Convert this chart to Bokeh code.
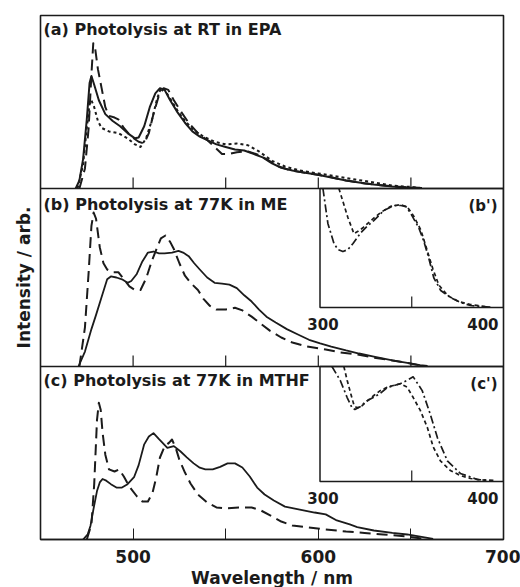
from bokeh.plotting import figure
from bokeh.models import Range1d, FixedTicker, Span, BoxAnnotation, Label, Title
from bokeh.embed import file_html
from bokeh.resources import INLINE
from bokeh.core.properties import value

# ---------------- data (intensity in % of panel height) ----------------
# (a) Photolysis at RT in EPA
a_solid_nm = [469, 471, 473, 475, 476.5, 477.5, 479, 481.5, 485, 489, 493, 497, 501, 503, 506, 509,
              512, 514.5, 517, 520, 524, 528, 532, 536, 540, 545, 550, 555, 560, 565, 570, 575, 580,
              586, 592, 599, 607, 615, 622, 630, 640, 648, 656]
a_solid = [0, 4.6, 17, 40, 61, 65, 60, 51, 43, 39, 36, 32, 29, 29.5, 36, 47,
           55, 58, 57, 51, 44, 38, 33, 30, 28, 25.5, 24, 22.5, 22, 20, 18, 14.5, 12,
           10.4, 9.2, 8.1, 6.4, 4.6, 3.5, 2.3, 1.2, 0.6, 0.3]
a_dash_nm = [471, 474, 476, 477.5, 478.5, 479.5, 481, 483, 485, 487, 490, 492, 495, 499, 503, 506,
             508.5, 511, 514, 516.5, 519, 522, 525.5, 530, 535, 540, 545, 548, 552, 556, 562, 567,
             572, 578, 585, 595, 605, 615, 625, 635, 645, 655]
a_dash = [0, 11.6, 35, 66, 84, 81, 69, 58, 47, 42, 41, 40, 35, 30, 27, 26,
          32, 43, 54, 58, 57, 51, 45, 38, 32, 28, 23, 20, 20, 21, 21.4, 19.7,
          17, 13, 10.4, 8.7, 7, 4.6, 2.9, 1.7, 0.9, 0.3]
a_dot_nm = [470, 473, 475, 476.5, 477.5, 479, 481, 483, 487, 492, 497, 501, 504, 507, 510, 513,
            515, 517, 520, 524, 528, 533, 538, 544, 550, 556, 562, 568, 575, 582, 590, 600, 610,
            620, 630, 640, 650, 655]
a_dot = [0, 14, 35, 49, 51, 47, 39, 35, 33, 32, 29, 25.5, 24, 29, 39, 52,
         58, 57, 52, 45, 39, 33.5, 30, 27, 25.5, 26, 25, 21.4, 16, 12.7, 10.4, 8.7, 7,
         5.2, 3.5, 1.7, 0.9, 0.3]

# (b) Photolysis at 77K in ME
b_solid_nm = [470.5, 474, 477.5, 480, 483, 486, 488, 491, 494, 497, 499, 502, 505, 508, 511, 514,
              517, 521, 524.5, 527, 530, 533, 536, 540, 544, 548, 552, 556, 560, 564, 568, 572,
              577, 583, 589, 595, 601, 607, 615, 622, 630, 640, 648, 655, 659]
b_solid = [0, 8.4, 21, 29, 39, 49, 50.6, 50, 49, 47, 48, 52, 59, 64, 64.6, 63.5,
           63.5, 64, 65, 64, 62, 58, 54.5, 50, 47, 46.6, 46, 44, 40, 36.5, 32, 28,
           24.7, 21, 18, 15, 13, 11.2, 9, 7.3, 5.6, 3.4, 2, 0.8, 0.3]
b_dash_nm = [471, 474, 476, 477.5, 478.7, 480, 482, 484, 486, 489, 492, 495, 498, 501, 504, 507,
             510, 513, 515, 517.5, 520, 522, 525, 528, 531, 535, 538, 541.5, 545, 550, 555, 559,
             564, 569, 574, 580, 586, 594, 604, 612, 621, 630, 640, 648, 655]
b_dash = [0, 22, 53, 79, 86.5, 83, 67, 58, 54.5, 53, 53, 49, 45, 43, 43, 49.4,
          59, 67, 72, 73.6, 70, 66, 58, 51, 47, 43, 38, 34, 32, 32, 33, 31.5,
          28, 24, 20, 16.3, 13.5, 11.2, 9.6, 7.9, 6.7, 5, 3.4, 2, 0.6]

# (c) Photolysis at 77K in MTHF
c_solid_nm = [473, 475.5, 477, 478.5, 480.5, 482, 483.5, 485.5, 488, 491, 494, 497, 500.5, 503,
              506, 508.5, 511, 514, 518.5, 522, 525.5, 529, 532.7, 536, 539, 543, 547, 551, 555,
              559, 563, 567, 571, 576, 582, 590, 598, 604, 610, 617, 621, 630, 640, 648, 655, 662]
c_solid = [0, 3, 8, 17, 28, 33, 35, 34, 32, 30, 30, 32, 36, 43,
           55, 59.5, 61.5, 58, 53, 54, 51, 47.5, 44, 41.5, 40.5, 40.5, 42, 44, 44,
           41.6, 36.4, 30, 26, 22.5, 19, 17.3, 15.6, 14.5, 11, 8.7, 7.2, 5.2, 3.8, 2.9, 1.7, 0.3]
c_dash_nm = [475, 477.5, 479, 480.5, 481.5, 482.5, 483.5, 485, 487, 490, 492.5, 495, 498, 502, 505,
             508, 510.5, 512.5, 514.5, 517, 519.5, 521, 523, 525, 528, 531, 535, 540, 545, 550,
             557, 564, 569, 574, 580, 586, 594, 604, 615, 625, 635, 645, 652, 657]
c_dash = [0, 8.7, 32, 69, 79, 75, 62, 49, 40.5, 39.3, 40.5, 36.4, 30.6, 25, 22,
          22, 27, 36, 47.4, 53.8, 56, 57.8, 53, 46, 38.7, 32.4, 26, 21.4, 18.5, 18,
          18.5, 18.5, 16.8, 13.9, 10.4, 8.1, 7, 5.8, 4.6, 3.8, 2.9, 2, 1.2, 0.3]

# (b') inset, 300-400 nm
bi_dashdot_nm = [301.6, 304.3, 307.6, 309.8, 312.5, 315.2, 318, 322.3, 325.5, 329.3, 334.8, 340.2,
                 344, 346.7, 349.5, 353.8, 356.5, 359.2, 362, 365.8, 371.2, 376.6, 382, 387.5, 394]
bi_dashdot = [100, 70.6, 53.8, 48.7, 47, 48.7, 53.8, 63, 68, 73, 81.5, 85.7,
              85.7, 85, 79, 67, 56, 42, 25, 14.3, 8.4, 4.2, 1.7, 0.8, 0.3]
bi_dash_nm = [310.3, 315.2, 318.5, 320.7, 323.4, 327.7, 333.2, 338.6, 344, 347.8, 351, 355, 358,
              361.4, 364.7, 369.6, 375.5, 382, 390]
bi_dash = [100, 75.6, 62, 64, 67, 73, 80, 85, 86.5, 84, 77, 65, 50,
           33, 19, 10, 5, 2.5, 0.8]

# (c') inset, 300-400 nm
ci_dashdot_nm = [306.5, 311, 314.8, 317.5, 319, 321.9, 325, 329, 332.8, 336.6, 343.7, 347.5, 350.8,
                 355.7, 360, 364, 369.4, 376.5, 385.8, 394.5]
ci_dashdot = [100, 88, 73, 64, 62.6, 65, 69.6, 73, 76.5, 81.7, 85, 88, 91,
              79, 59, 38, 18, 7, 1.7, 0.9]
ci_dash_nm = [313, 314.8, 317, 318.6, 320.2, 323, 325.7, 329.5, 332.8, 336.6, 340, 343.7, 347.5,
              350.8, 354.6, 358.5, 361.7, 365.6, 371, 376.5, 382, 391]
ci_dash = [100, 88, 75, 66, 64, 66, 70, 75, 79, 82, 83.5, 85, 82,
           73, 62, 47, 30, 18, 9.6, 5.2, 2.6, 0.9]

panel_titles = ["(a) Photolysis at RT in EPA", "(b) Photolysis at 77K in ME",
                "(c) Photolysis at 77K in MTHF"]
inset_titles = ["(b')", "(c')"]
main_ticks = [500, 600, 700]
main_minor_ticks = [550, 650]
panel_ticks = [500, 550, 600, 650]
inset_tick_labels = [300, 400]
inset_ticks = [350]

# ---------------- layout (pixels inside the plot frame) ----------------
FRAME_W, FRAME_H = 463, 524
PANELS = {"a": (0, 173), "b": (173, 351), "c": (351, 524)}
INSETS = {"bi": (173, 292), "ci": (351, 466)}
INSET_LEFT = 279.5
TICK = 11
INK = "#1b1b1b"
FONT = "DejaVu Sans"


def band_range(top, bottom):
    s = 100.0 / (bottom - top)
    return Range1d(start=-(FRAME_H - bottom) * s, end=bottom * s)


def px(name, pixels):
    top, bottom = (PANELS | INSETS)[name]
    return pixels * 100.0 / (bottom - top)


ins_scale = (FRAME_W - INSET_LEFT) / 100.0

p = figure(width=520, height=587, x_range=Range1d(450, 700), y_range=Range1d(0, 1),
           output_backend="svg", toolbar_location=None,
           min_border_left=40, min_border_right=17, min_border_top=15, min_border_bottom=48)
p.extra_y_ranges = {k: band_range(*v) for k, v in (PANELS | INSETS).items()}
p.extra_x_ranges = {"ins": Range1d(300 - INSET_LEFT / ins_scale, 400)}

p.outline_line_color = INK
p.outline_line_width = 1.6
p.grid.visible = False
p.background_fill_color = "white"
p.border_fill_color = "white"

xa = p.xaxis[0]
xa.ticker = FixedTicker(ticks=main_ticks, minor_ticks=main_minor_ticks)
xa.major_tick_in = TICK
xa.major_tick_out = 0
xa.minor_tick_in = TICK
xa.minor_tick_out = 0
xa.axis_line_color = INK
xa.axis_line_width = 1.6
xa.major_tick_line_color = INK
xa.minor_tick_line_color = INK
xa.major_label_standoff = 10
xa.major_label_text_font = FONT
xa.major_label_text_font_style = "bold"
xa.major_label_text_font_size = "17px"
xa.major_label_text_color = INK

ya = p.yaxis[0]
ya.ticker = FixedTicker(ticks=[])
ya.major_tick_in = 0
ya.major_tick_out = 0
ya.minor_tick_in = 0
ya.minor_tick_out = 0
ya.axis_line_color = None
ya.major_label_text_font_size = "0px"
ya.axis_label = "Intensity / arb."
ya.axis_label_text_font = FONT
ya.axis_label_text_font_style = "bold"
ya.axis_label_text_font_size = "17px"
ya.axis_label_text_color = INK
ya.axis_label_standoff = 7

# x axis title, set a little right of the frame centre
p.add_layout(Title(text="Wavelength / nm", align="center", offset=25, standoff=0,
                   text_font=FONT, text_font_style="bold", text_font_size="17px",
                   text_color=INK), "below")

# panel separators and inner ticks
for name in ("a", "b"):
    p.add_layout(Span(location=0, dimension="width", y_range_name=name,
                      line_color=INK, line_width=1.6))
    p.segment(x0=panel_ticks, y0=0, x1=panel_ticks, y1=px(name, TICK),
              y_range_name=name, line_color=INK, line_width=1.2)

# panel titles
for name, title in zip(("a", "b", "c"), panel_titles):
    dy = 14 if name != "b" else 16
    p.add_layout(Label(x=450 + 3 / 1.852, y=px(name, (PANELS[name][1] - PANELS[name][0]) - dy),
                       y_range_name=name, text=title, text_baseline="middle",
                       text_font=FONT, text_font_style="bold", text_font_size="16px",
                       text_color=INK))

# main spectra
def draw(nm, vals, name, dash, x_range_name="default", width=2.0):
    p.line(nm, vals, y_range_name=name, x_range_name=x_range_name,
           line_color=INK, line_width=width, line_dash=dash, line_join="round")


draw(a_dot_nm, a_dot, "a", "3 3")
draw(a_dash_nm, a_dash, "a", "11 6")
draw(a_solid_nm, a_solid, "a", "solid")
draw(b_dash_nm, b_dash, "b", "11 6")
draw(b_solid_nm, b_solid, "b", "solid", width=1.8)
draw(c_dash_nm, c_dash, "c", "11 6")
draw(c_solid_nm, c_solid, "c", "solid", width=1.8)

# insets
for name, label, dd_nm, dd, sd_nm, sd in (("bi", inset_titles[0], bi_dashdot_nm, bi_dashdot, bi_dash_nm, bi_dash),
                                            ("ci", inset_titles[1], ci_dashdot_nm, ci_dashdot, ci_dash_nm, ci_dash)):
    p.add_layout(BoxAnnotation(left=300, right=400, bottom=0, top=100,
                               x_range_name="ins", y_range_name=name,
                               fill_color=None, line_color=INK, line_alpha=1.0, line_width=1.5))
    p.segment(x0=inset_ticks, y0=0, x1=inset_ticks, y1=px(name, TICK),
              x_range_name="ins", y_range_name=name, line_color=INK, line_width=1.2)
    draw(dd_nm, dd, name, "8 3 2 3", x_range_name="ins", width=1.7)
    draw(sd_nm, sd, name, "4 3", x_range_name="ins", width=1.7)
    p.text(x=inset_tick_labels[:1], y=[px(name, -16)], text=[str(inset_tick_labels[0])],
           x_offset=3, x_range_name="ins", y_range_name=name,
           text_align="center", text_baseline="middle", text_font=value(FONT),
           text_font_style="bold", text_font_size="15px", text_color=INK)
    p.text(x=inset_tick_labels[1:], y=[px(name, -16)], text=[str(inset_tick_labels[1])],
           x_offset=-5, x_range_name="ins", y_range_name=name,
           text_align="right", text_baseline="middle", text_font=value(FONT),
           text_font_style="bold", text_font_size="15px", text_color=INK)
    p.text(x=[400], y=[px(name, (INSETS[name][1] - INSETS[name][0]) - 17)], text=[label],
           x_offset=-6, x_range_name="ins", y_range_name=name,
           text_align="right", text_baseline="middle", text_font=value(FONT),
           text_font_style="bold", text_font_size="15px", text_color=INK)

open("out.html", "w").write(file_html(p, INLINE))
